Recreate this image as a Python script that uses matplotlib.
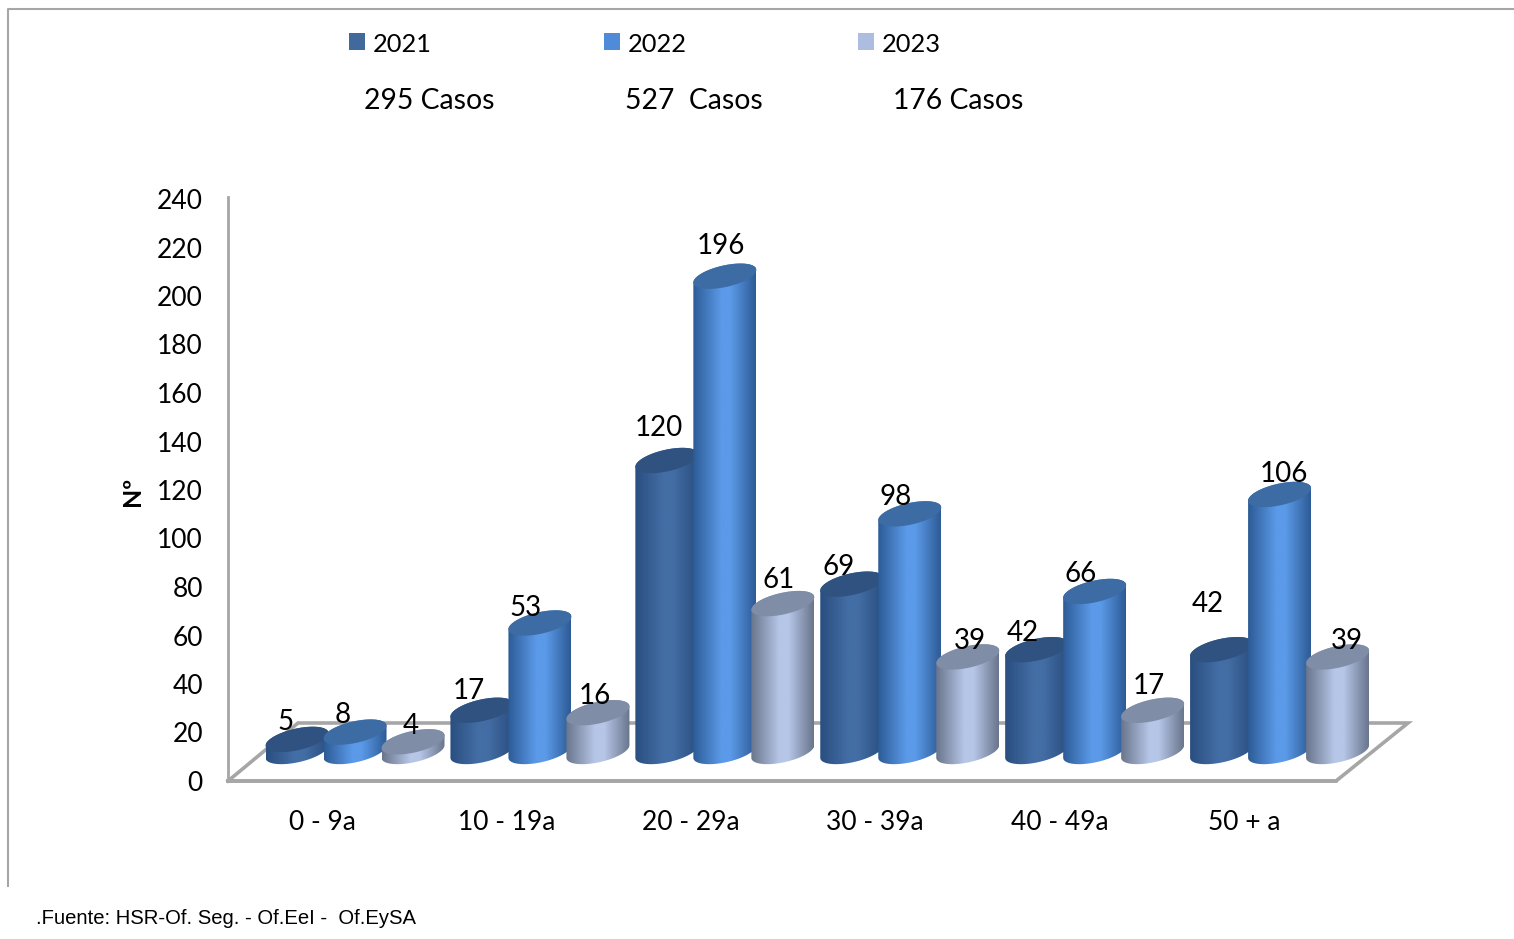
import numpy as np
import matplotlib
matplotlib.use('Agg')
import matplotlib.pyplot as plt
from matplotlib.colors import LinearSegmentedColormap
from matplotlib.lines import Line2D
from matplotlib.patches import Polygon, Rectangle

plt.rcParams['font.family'] = ['Lato', 'DejaVu Sans']

grupos = ['0 - 9a', '10 - 19a', '20 - 29a', '30 - 39a', '40 - 49a', '50 + a']
anios = ['2021', '2022', '2023']
casos = ['295 Casos', '527  Casos', '176 Casos']
v2021 = [5, 17, 120, 69, 42, 42]
v2022 = [8, 53, 196, 98, 66, 106]
v2023 = [4, 16, 61, 39, 17, 39]
series = [v2021, v2022, v2023]

# desplazamiento de las etiquetas respecto del tope de cada barra (pixeles)
off2021 = [(-12, 17), (-13, 19), (-8, 33), (-13, 17), (-14, 17), (-14, 46)]
off2022 = [(-12, 17), (-14, 15), (-4, 30), (-14, 17), (-14, 17), (4, 20)]
off2023 = [(-2, 16), (-3, 17), (-4, 24), (2, 16), (-4, 24), (9, 16)]
offsets = [off2021, off2022, off2023]

# borde, centro, tapa
colores = [('#2a4e80', '#436ea5', '#2f5280'),
           ('#2d5b96', '#5b9ae8', '#3d6ba3'),
           ('#69758c', '#b6c6e7', '#7f8da6')]
leyenda = ['#41699c', '#4f8bd9', '#adbde0']

W, H = 1514, 939
fig = plt.figure(figsize=(W / 100, H / 100), dpi=100)
ax = fig.add_axes([228 / W, 1 - 781 / H, (1336 - 228) / W, (781 - 199) / H])
ax.set_xlim(-0.51, 5.5)
ax.set_ylim(0, 240)

PX = 6.01 / 1108   # unidades x por pixel
PY = 240 / 582     # unidades y por pixel
BASE = 29.5 * PY
RX = 31.5
RY = 11
SHEAR = 0.2
GRIS = '#a6a6a6'


def elipse(xc, yc, t):
    xp = RX * np.cos(t)
    yp = RY * np.sin(t) + SHEAR * xp
    return np.column_stack([xc + xp * PX, yc + yp * PY])


def cilindro(xc, valor, c_borde, c_centro, c_tapa, z):
    top = BASE + valor
    cmap = LinearSegmentedColormap.from_list('c', [(0, c_borde), (0.45, c_centro), (0.6, c_centro), (1, c_borde)])
    abajo = elipse(xc, BASE, np.linspace(np.pi, 2 * np.pi, 50))
    arriba = elipse(xc, top, np.linspace(0, np.pi, 50))
    cuerpo = Polygon(np.vstack([abajo, arriba]), closed=True, transform=ax.transData, fc='none', ec='none')
    ax.add_patch(cuerpo)
    cuerpo.set_clip_on(False)
    grad = np.linspace(0, 1, 128).reshape(1, -1)
    im = ax.imshow(grad, cmap=cmap, aspect='auto', zorder=z, interpolation='bilinear',
                   extent=[xc - RX * PX, xc + RX * PX, BASE - 20 * PY, top + 20 * PY])
    im.set_clip_path(cuerpo)
    im.set_clip_box(fig.bbox)
    tapa = elipse(xc, top, np.linspace(0, 2 * np.pi, 80))
    ax.add_patch(Polygon(tapa, closed=True, fc=c_tapa, ec='none', zorder=z + 0.1, clip_on=False))


# piso
piso_x = [-0.51, 5.5, 5.5 + 72 * PX, -0.51 + 70 * PX, -0.51]
piso_y = [0, 0, 58 * PY, 58 * PY, 0]
ax.plot(piso_x, piso_y, color=GRIS, lw=2.6, clip_on=False, zorder=1, solid_joinstyle='miter')

z = 2
for g in range(len(grupos)):
    for s in range(3):
        xc = g * 1.003 + 0.179 + (s - 1) * 58 * PX
        cilindro(xc, series[s][g], *colores[s], z)
        z += 1
        ax.annotate(str(series[s][g]), (xc, BASE + series[s][g]), xytext=offsets[s][g],
                    textcoords='offset pixels', ha='center', va='center', fontsize=20,
                    color='black', zorder=100, annotation_clip=False)

ax.set_xlim(-0.51, 5.5)
ax.set_ylim(0, 240)
ax.set_xticks(range(len(grupos)))
ax.set_xticklabels(grupos, fontsize=19)
ax.set_yticks(range(0, 241, 20))
ax.tick_params(axis='y', length=0, pad=18, labelsize=19)
ax.tick_params(axis='x', length=0, pad=21)
ax.patch.set_visible(False)
for lado in ['top', 'right']:
    ax.spines[lado].set_visible(False)
ax.spines['left'].set_color(GRIS)
ax.spines['left'].set_linewidth(2)
ax.spines['left'].set_bounds(0, 241)
ax.spines['bottom'].set_color(GRIS)
ax.spines['bottom'].set_linewidth(2.6)

fig.text(133 / W, 1 - 491 / H, 'Nº', rotation=90, fontsize=18, fontweight='bold', ha='center', va='center')

# leyenda y totales
ley_x = [349, 604, 858]
casos_x = [429, 694, 958]
for i in range(3):
    fig.add_artist(Rectangle((ley_x[i] / W, 1 - 50 / H), 16 / W, 17 / H, transform=fig.transFigure,
                             fc=leyenda[i], ec='none'))
    fig.text((ley_x[i] + 24) / W, 1 - 44 / H, anios[i], fontsize=18.3, ha='left', va='center')
    fig.text(casos_x[i] / W, 1 - 101 / H, casos[i], fontsize=20.4, ha='center', va='center')

fig.text(36 / W, 1 - 918 / H, '.Fuente: HSR-Of. Seg. - Of.EeI -  Of.EySA', fontsize=14.6,
         family='Liberation Sans', ha='left', va='center')

# marco
fig.add_artist(Line2D([8 / W, 8 / W, 1], [1 - 886 / H, 1 - 9 / H, 1 - 9 / H], color=GRIS, lw=1.5))

fig.savefig('out.png', dpi=100, facecolor='white')
